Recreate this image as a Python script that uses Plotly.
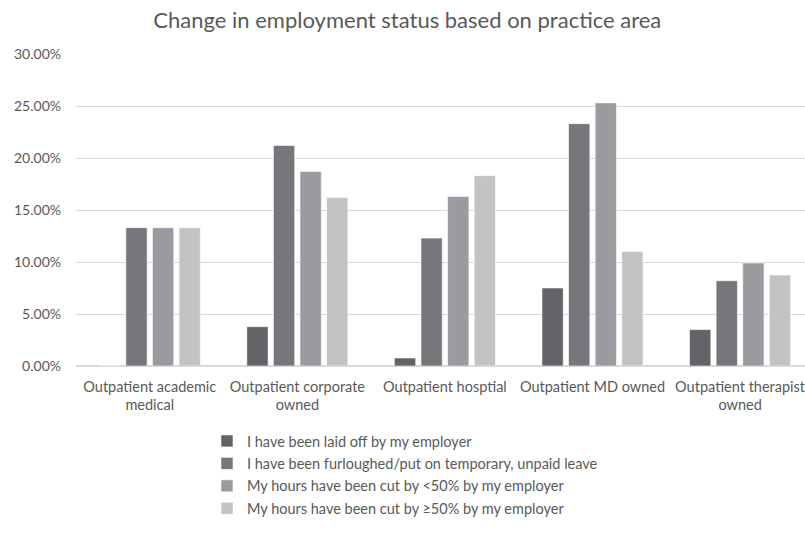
import plotly.graph_objects as go

categories = ["Outpatient academic<br>medical", "Outpatient corporate<br>owned",
              "Outpatient hosptial", "Outpatient MD owned", "Outpatient therapist<br>owned"]
series_names = ["I have been laid off by my employer",
                "I have been furloughed/put on temporary, unpaid leave",
                "My hours have been cut by <50% by my employer",
                "My hours have been cut by ≥50% by my employer"]
laid_off = [0.0, 0.0378, 0.0077, 0.075, 0.035]
furloughed = [0.133, 0.212, 0.123, 0.233, 0.082]
cut_lt50 = [0.133, 0.187, 0.163, 0.253, 0.099]
cut_ge50 = [0.133, 0.162, 0.183, 0.110, 0.0875]
colors = ["#636468", "#76777b", "#9a9b9f", "#c2c3c5"]

fig = go.Figure()
for name, vals, col in zip(series_names, [laid_off, furloughed, cut_lt50, cut_ge50], colors):
    fig.add_trace(go.Bar(x=categories, y=vals, name=name, legendgroup=name,
                         marker=dict(color=col, line=dict(color="rgba(255,255,255,0.7)", width=0.8))))

font_family = "Lato, 'Open Sans', sans-serif"
fig.update_layout(
    width=805, height=542,
    paper_bgcolor="white", plot_bgcolor="white",
    margin=dict(l=76, r=0, t=54, b=176, autoexpand=False),
    barmode="group", bargap=0.279, bargroupgap=0.2,
    title=dict(text="Change in employment status based on practice area",
               x=0.506, xref="container", y=1 - 20 / 542, yref="container",
               xanchor="center", yanchor="middle",
               font=dict(family=font_family, size=22, color="#595959")),
    font=dict(family=font_family, size=14.5, color="#595959"),
    legend=dict(orientation="v", xref="container", yref="container",
                x=207 / 805, y=1 - 425 / 542, xanchor="left", yanchor="top",
                traceorder="grouped", tracegroupgap=0.6,
                font=dict(family=font_family, size=14.5, color="#595959")),
    showlegend=True,
)
fig.update_xaxes(range=[-0.5, 4.44], showgrid=False, zeroline=False, showline=False,
                 ticks="", tickangle=0, automargin=False, ticklabelstandoff=10,
                 tickfont=dict(size=14.5, color="#595959"))
fig.update_yaxes(range=[0, 0.30], dtick=0.05, tickformat=".2%", showgrid=True,
                 gridcolor="#d9d9d9", gridwidth=1, zeroline=True, zerolinecolor="#d9d9d9",
                 showline=False, ticks="", ticklabelstandoff=14, automargin=False,
                 tickfont=dict(size=14, color="#595959"))

fig.write_html("out.html", config={"displayModeBar": False},
               post_script="document.body.style.margin='0';")
